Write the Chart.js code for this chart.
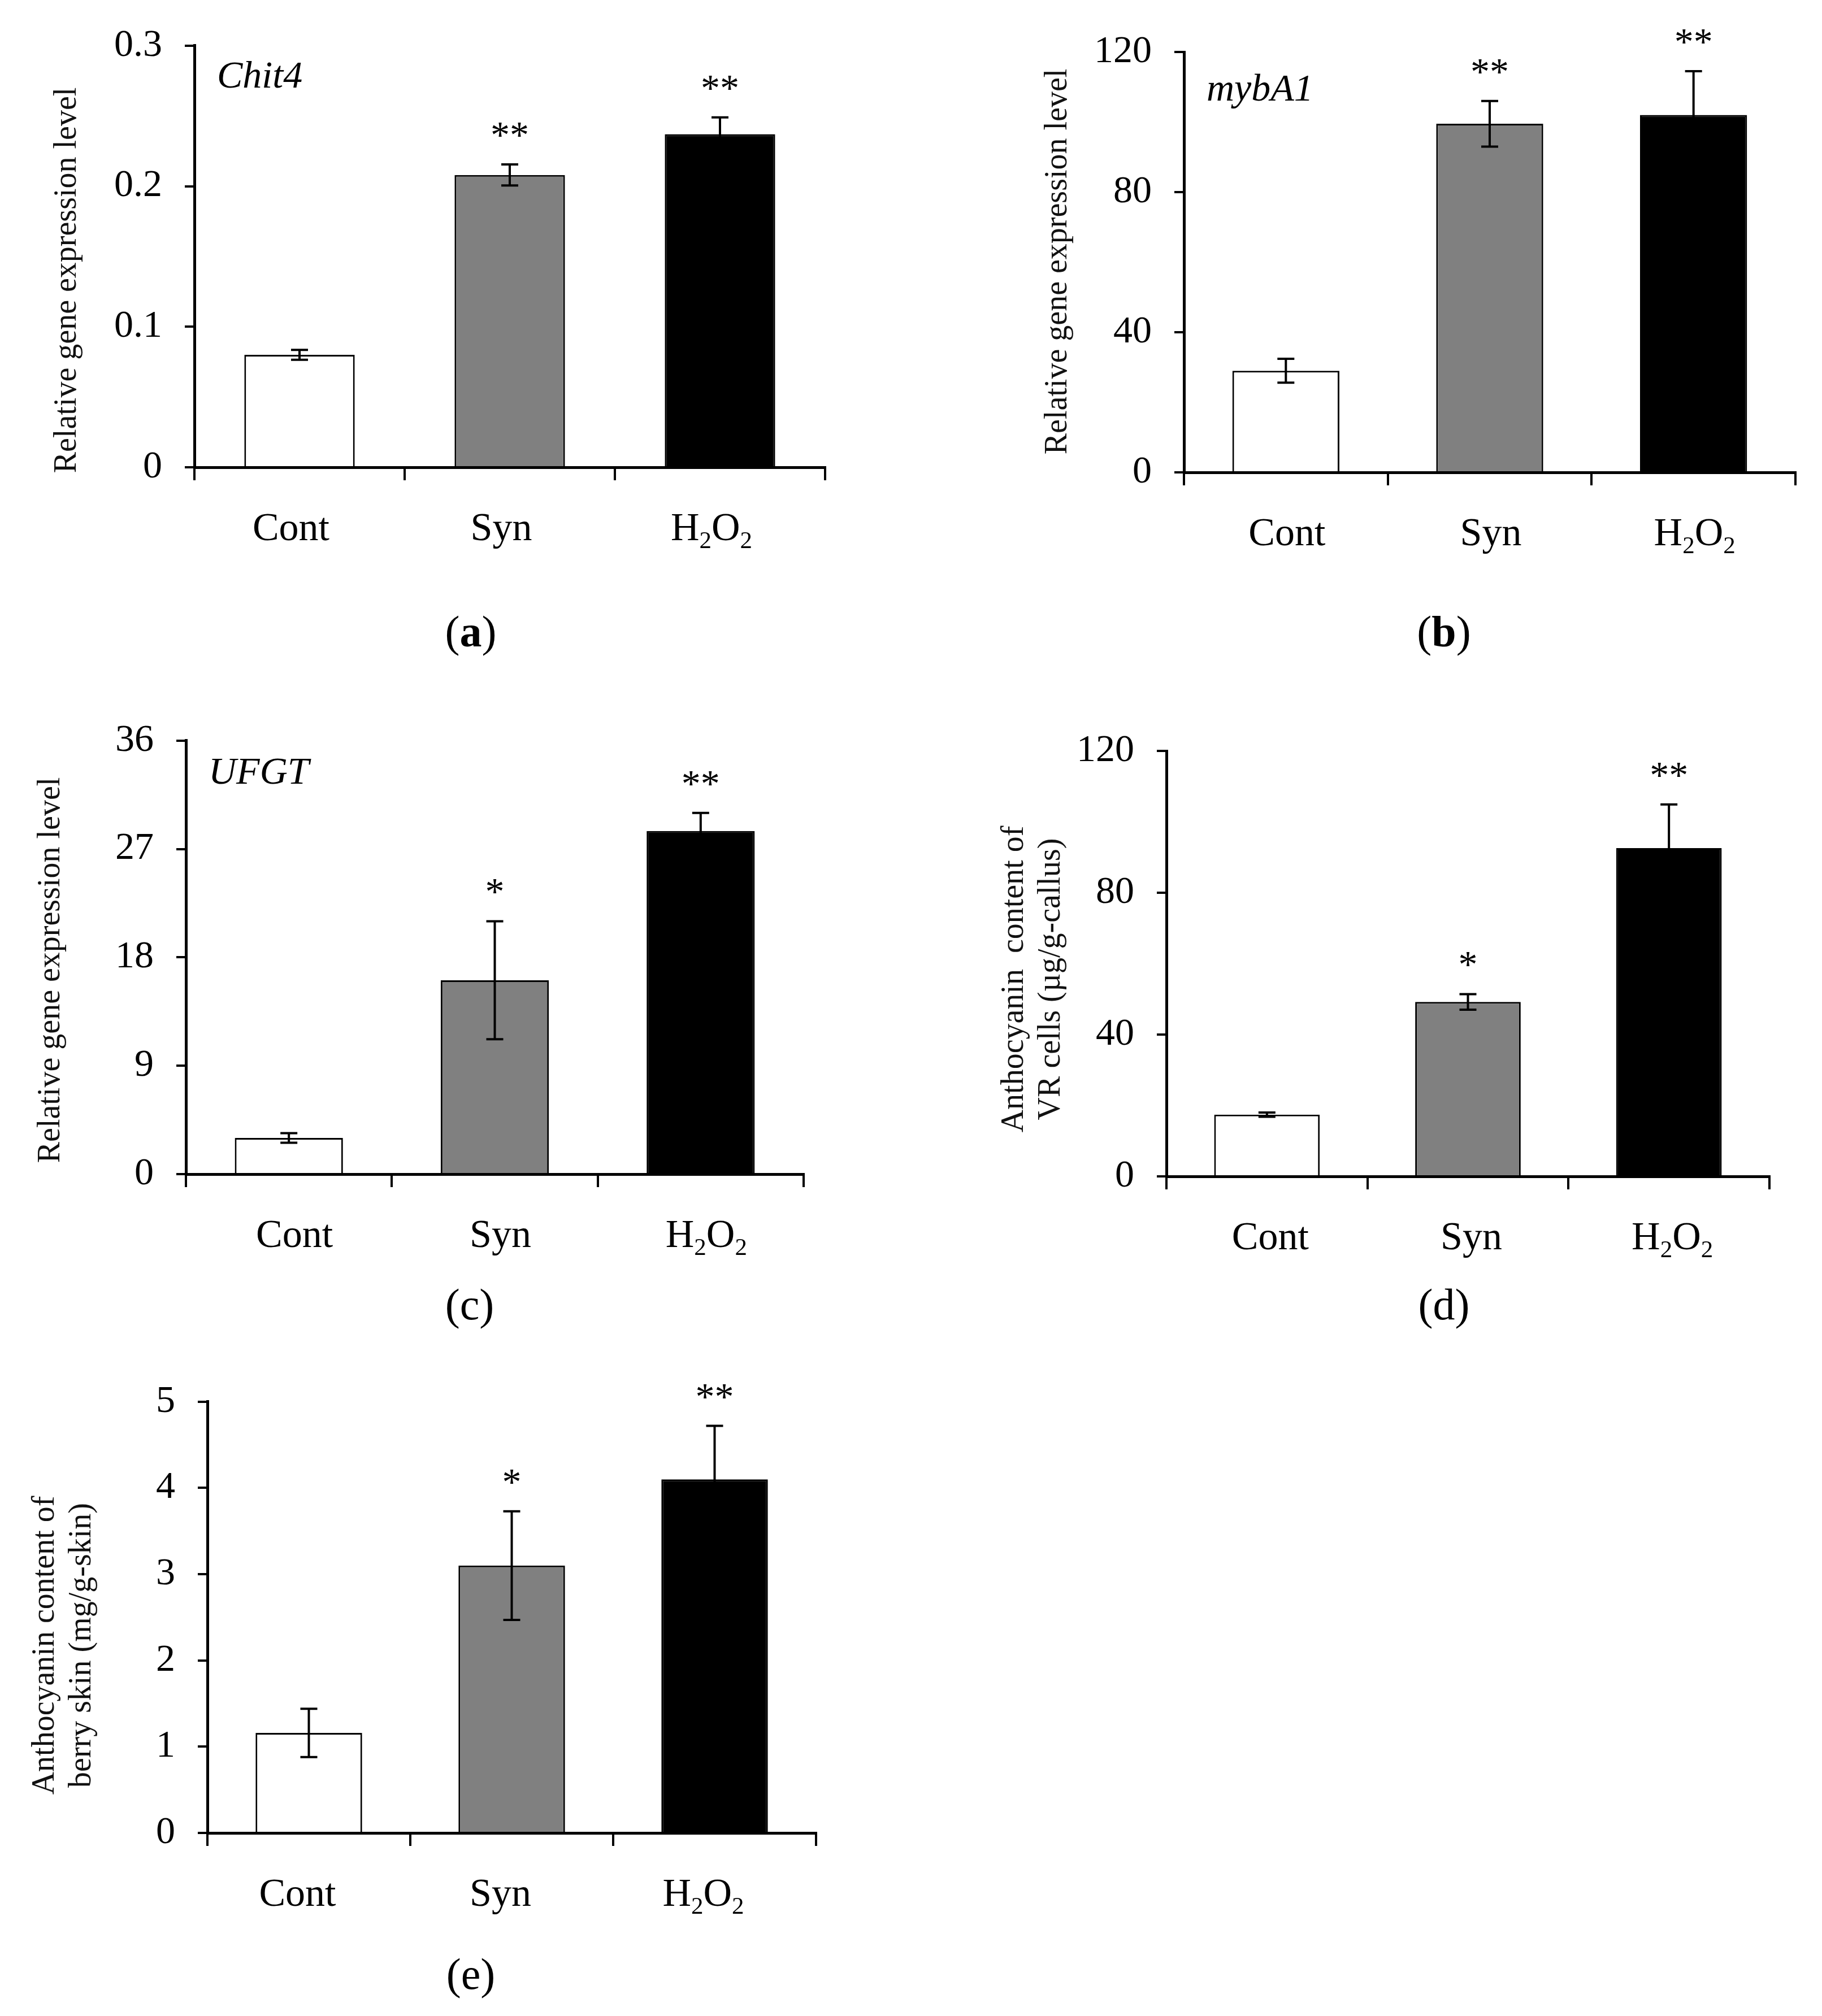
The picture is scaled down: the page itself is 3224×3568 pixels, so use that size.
<!DOCTYPE html>
<html>
<head>
<meta charset="utf-8">
<script src="https://cdn.jsdelivr.net/npm/chart.js@4.4.1/dist/chart.umd.min.js"></script>
<style>
  html, body { margin: 0; padding: 0; background: #fff; }
  #page { position: relative; width: 3224px; height: 3568px; background: #fff; overflow: hidden; }
  #page canvas { position: absolute; }
</style>
</head>
<body>
<div id="page"></div>
<script>
// Data
const categories = ["Cont", "Syn", "H2O2"];
const barColors = ["#ffffff", "#808080", "#000000"];

// (a) Chit4
const chit4Values = [0.080, 0.208, 0.237];
const chit4Errors = [0.0035, 0.0075, 0.012];
const chit4Stars = ["", "**", "**"];
const chit4Ticks = [0, 0.1, 0.2, 0.3];

// (b) mybA1
const mybA1Values = [29.0, 99.5, 102.0];
const mybA1Errors = [3.4, 6.5, 12.5];
const mybA1Stars = ["", "**", "**"];
const mybA1Ticks = [0, 40, 80, 120];

// (c) UFGT
const ufgtValues = [3.0, 16.1, 28.5];
const ufgtErrors = [0.4, 4.9, 1.5];
const ufgtStars = ["", "*", "**"];
const ufgtTicks = [0, 9, 18, 27, 36];

// (d) anthocyanin, VR cells
const vrValues = [17.4, 49.2, 92.6];
const vrErrors = [0.6, 2.2, 12.3];
const vrStars = ["", "*", "**"];
const vrTicks = [0, 40, 80, 120];

// (e) anthocyanin, berry skin
const berryValues = [1.16, 3.10, 4.10];
const berryErrors = [0.28, 0.63, 0.62];
const berryStars = ["", "*", "**"];
const berryTicks = [0, 1, 2, 3, 4, 5];

// Layout
const serif = '"Liberation Serif", "Times New Roman", serif';
const Y_AXIS_W = 250;
const X_AXIS_H = 150;

const panels = [
  {
    id: "a", values: chit4Values, errors: chit4Errors, stars: chit4Stars, ticks: chit4Ticks,
    gene: "Chit4", yTitle: ["Relative gene expression level"], titleX: [134], titleY: 496,
    label: [["(", false], ["a", true], [")", false]], labelPos: [833, 1124], catShift: -15,
    frame: { left: 0, top: 0, width: 1612, height: 1230 },
    plot: { L: 344, T: 69, R: 1460, B: 827 },
  },
  {
    id: "b", values: mybA1Values, errors: mybA1Errors, stars: mybA1Stars, ticks: mybA1Ticks,
    gene: "mybA1", yTitle: ["Relative gene expression level"], titleX: [1887], titleY: 463,
    label: [["(", false], ["b", true], [")", false]], labelPos: [2555, 1124], catShift: 2,
    frame: { left: 1612, top: 0, width: 1612, height: 1230 },
    plot: { L: 2095, T: 92, R: 3177, B: 836 },
  },
  {
    id: "c", values: ufgtValues, errors: ufgtErrors, stars: ufgtStars, ticks: ufgtTicks,
    gene: "UFGT", yTitle: ["Relative gene expression level"], titleX: [105], titleY: 1717,
    label: [["(c)", false]], labelPos: [831, 2315], catShift: 10,
    frame: { left: 0, top: 1230, width: 1612, height: 1170 },
    plot: { L: 329, T: 1301, R: 1422, B: 2078 },
  },
  {
    id: "d", values: vrValues, errors: vrErrors, stars: vrStars, ticks: vrTicks,
    gene: "", yTitle: ["Anthocyanin  content of", "VR cells (\u00b5g/g-callus)"], titleX: [1810, 1875], titleY: 1733,
    label: [["(d)", false]], labelPos: [2555, 2315], catShift: 6,
    frame: { left: 1612, top: 1230, width: 1612, height: 1170 },
    plot: { L: 2064, T: 1329, R: 3131, B: 2082 },
  },
  {
    id: "e", values: berryValues, errors: berryErrors, stars: berryStars, ticks: berryTicks,
    gene: "", yTitle: ["Anthocyanin content of", "berry skin (mg/g-skin)"], titleX: [95, 160], titleY: 2912,
    label: [["(e)", false]], labelPos: [833, 3500], catShift: -20,
    frame: { left: 0, top: 2400, width: 1612, height: 1168 },
    plot: { L: 367, T: 2462, R: 1444, B: 3244 },
  },
];

// Draw text where digits become subscripts (H2O2)
const drawChem = (ctx, text, cx, baseline, size) => {
  const big = `${size}px ${serif}`, small = `${Math.round(size * 0.62)}px ${serif}`;
  const parts = text.split("").map(ch => ({ ch, sub: /\d/.test(ch) }));
  let total = 0;
  parts.forEach(p => { ctx.font = p.sub ? small : big; p.w = ctx.measureText(p.ch).width; total += p.w; });
  let x = cx - total / 2;
  ctx.textAlign = "left";
  parts.forEach(p => {
    ctx.font = p.sub ? small : big;
    ctx.fillText(p.ch, x, baseline + (p.sub ? size * 0.2 : 0));
    x += p.w;
  });
};

const panelDecor = {
  id: "panelDecor",
  afterDraw(chart, args, opts) {
    const p = opts.panel;
    const { ctx, scales: { x, y } } = chart;
    const ox = p.frame.left, oy = p.frame.top;
    ctx.save();
    ctx.fillStyle = "#000";
    ctx.strokeStyle = "#000";

    // error bars and significance stars
    ctx.lineWidth = 4;
    p.values.forEach((v, i) => {
      const cx = x.getPixelForValue(i);
      const top = y.getPixelForValue(v + p.errors[i]);
      const bot = y.getPixelForValue(v - p.errors[i]);
      ctx.beginPath();
      ctx.moveTo(cx, top); ctx.lineTo(cx, bot);
      ctx.moveTo(cx - 15, top); ctx.lineTo(cx + 15, top);
      ctx.moveTo(cx - 15, bot); ctx.lineTo(cx + 15, bot);
      ctx.stroke();
      if (p.stars[i]) {
        ctx.font = `68px ${serif}`;
        ctx.textAlign = "center";
        ctx.textBaseline = "alphabetic";
        ctx.fillText(p.stars[i], cx, top - 30);
      }
    });

    // category labels
    ctx.textBaseline = "alphabetic";
    categories.forEach((c, i) => drawChem(ctx, c, x.getPixelForValue(i) + p.catShift, p.plot.B - oy + 129, 70));

    // gene name
    if (p.gene) {
      ctx.font = `italic 68px ${serif}`;
      ctx.textAlign = "left";
      ctx.fillText(p.gene, p.plot.L - ox + 40, p.plot.T - oy + 86);
    }

    // y axis title
    ctx.fillStyle = "#111";
    ctx.font = `56px ${serif}`;
    ctx.textAlign = "center";
    p.yTitle.forEach((line, i) => {
      ctx.save();
      ctx.translate(p.titleX[i] - ox, p.titleY - oy);
      ctx.rotate(-Math.PI / 2);
      ctx.fillText(line, 0, 0);
      ctx.restore();
    });

    // panel label
    ctx.fillStyle = "#000";
    ctx.textBaseline = "middle";
    ctx.textAlign = "left";
    const fonts = p.label.map(([t, bold]) => `${bold ? "bold " : ""}78px ${serif}`);
    let w = 0;
    p.label.forEach(([t], i) => { ctx.font = fonts[i]; w += ctx.measureText(t).width; });
    let lx = p.labelPos[0] - ox - w / 2;
    p.label.forEach(([t], i) => {
      ctx.font = fonts[i];
      ctx.fillText(t, lx, p.labelPos[1] - oy);
      lx += ctx.measureText(t).width;
    });
    ctx.restore();
  }
};

const page = document.getElementById("page");

panels.forEach(p => {
  const canvas = document.createElement("canvas");
  canvas.id = "chart-" + p.id;
  canvas.width = p.frame.width;
  canvas.height = p.frame.height;
  canvas.style.left = p.frame.left + "px";
  canvas.style.top = p.frame.top + "px";
  canvas.style.width = p.frame.width + "px";
  canvas.style.height = p.frame.height + "px";
  page.appendChild(canvas);

  const padding = {
    left: p.plot.L - p.frame.left - Y_AXIS_W,
    top: p.plot.T - p.frame.top,
    right: p.frame.left + p.frame.width - p.plot.R,
    bottom: p.frame.top + p.frame.height - p.plot.B - X_AXIS_H,
  };

  new Chart(canvas, {
    type: "bar",
    data: {
      labels: categories,
      datasets: [{
        data: p.values,
        backgroundColor: barColors,
        borderColor: "#000",
        borderWidth: 3,
        barPercentage: 0.525,
        categoryPercentage: 1,
      }],
    },
    options: {
      responsive: false,
      animation: false,
      devicePixelRatio: 1,
      layout: { padding },
      plugins: {
        legend: { display: false },
        tooltip: { enabled: false },
        panelDecor: { panel: p },
      },
      scales: {
        x: {
          grid: { offset: true, drawOnChartArea: false, drawTicks: true, tickLength: 23, color: "#000", lineWidth: 4 },
          border: { display: true, color: "#000", width: 5 },
          ticks: { display: false },
          afterFit: (s) => { s.height = X_AXIS_H; },
        },
        y: {
          min: 0,
          max: p.ticks[p.ticks.length - 1],
          afterBuildTicks: (s) => { s.ticks = p.ticks.map(v => ({ value: v })); },
          grid: { drawOnChartArea: false, drawTicks: true, tickLength: 17, color: "#000", lineWidth: 4 },
          border: { display: true, color: "#000", width: 5 },
          ticks: {
            color: "#000",
            padding: 40,
            font: { family: serif, size: 68 },
            callback: (v) => String(v),
          },
          afterFit: (s) => { s.width = Y_AXIS_W; },
        },
      },
    },
    plugins: [panelDecor],
  });
});
</script>
</body>
</html>
